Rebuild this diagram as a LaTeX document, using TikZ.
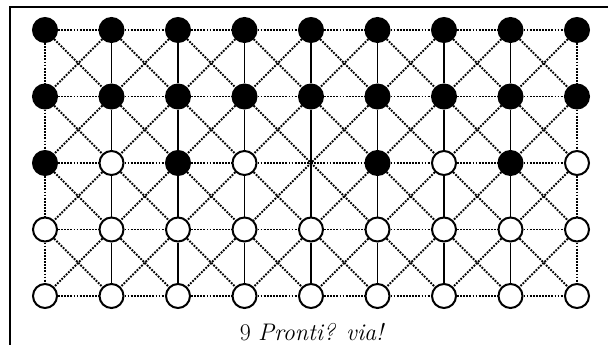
\documentclass[tikz,border=0pt]{standalone}
\begin{document}
\begin{tikzpicture}[x=1pt,y=-1pt,
  piece/.style={circle,draw=black,line width=2pt,minimum size=24pt,inner sep=0pt},
  kind-b/.style={piece,fill=black},
  kind-w/.style={piece,fill=white},
  kind-e/.style={coordinate},
  dotline/.style={line width=1.8pt,dash pattern=on 1.8pt off 1.3pt},
  solidline/.style={line width=1.8pt},
  frameline/.style={line width=2pt}]
\useasboundingbox (0,0) rectangle (608,345);
% frame
\draw[frameline] (10,345) -- (10,7) -- (608,7);
% board points: column i = 1..9, row j = 1..5 (b black, w white, e empty)
\foreach \j/\row in {1/{b,b,b,b,b,b,b,b,b},2/{b,b,b,b,b,b,b,b,b},3/{b,w,b,w,e,b,w,b,w},4/{w,w,w,w,w,w,w,w,w},5/{w,w,w,w,w,w,w,w,w}}{
  \foreach \kind [count=\i] in \row{
    \node[kind-\kind] (p-\i-\j) at ({45+66.5*(\i-1)},{30+66.5*(\j-1)}) {};
  }
}
% horizontal lines
\foreach \j in {1,...,5}{
  \foreach \i [evaluate=\i as \k using int(\i+1)] in {1,...,8}{
    \draw[dotline] (p-\i-\j) -- (p-\k-\j);
  }
}
% vertical lines: dotted on the edges, solid inside
\foreach \j [evaluate=\j as \m using int(\j+1)] in {1,...,4}{
  \draw[dotline] (p-1-\j) -- (p-1-\m);
  \draw[dotline] (p-9-\j) -- (p-9-\m);
  \foreach \i in {2,...,8}{
    \draw[solidline] (p-\i-\j) -- (p-\i-\m);
  }
}
% diagonals in every cell
\foreach \j [evaluate=\j as \m using int(\j+1)] in {1,...,4}{
  \foreach \i [evaluate=\i as \k using int(\i+1)] in {1,...,8}{
    \draw[dotline] (p-\i-\j) -- (p-\k-\m);
    \draw[dotline] (p-\k-\j) -- (p-\i-\m);
  }
}
% caption
\node[anchor=base,inner sep=0pt,font=\fontsize{24}{28}\selectfont] (cap) at (312.5,340) {9 \textit{Pronti? via!}};
\end{tikzpicture}
\end{document}
